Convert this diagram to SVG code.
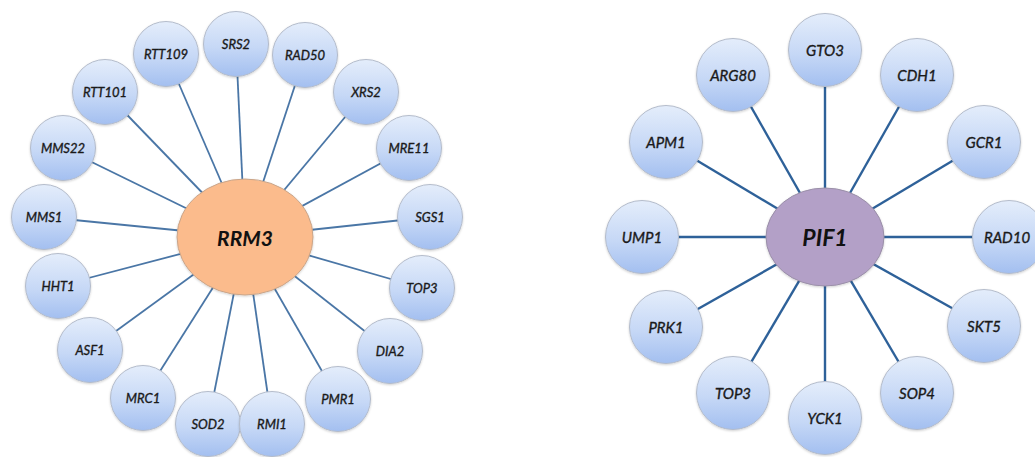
<svg xmlns="http://www.w3.org/2000/svg" width="1035" height="457" viewBox="0 0 1035 457">
  <defs>
    <linearGradient id="leaf" x1="0" y1="0" x2="0" y2="1">
      <stop offset="0" stop-color="#e4edfb"/>
      <stop offset="0.55" stop-color="#c6d8f6"/>
      <stop offset="1" stop-color="#a3bff0"/>
    </linearGradient>
    <filter id="soft" x="-20%" y="-20%" width="140%" height="140%">
      <feDropShadow dx="0" dy="1" stdDeviation="1" flood-color="#000" flood-opacity="0.18"/>
    </filter>
  </defs>
  <style>
    .leaf { fill: url(#leaf); stroke: #b4bccb; stroke-width: 1; filter: url(#soft); }
    .lbl { font-family: Lato, "Open Sans", "Liberation Sans", sans-serif; font-style: italic; fill: #1a1a1a; stroke: #1a1a1a; stroke-width: 0.35; text-anchor: middle; dominant-baseline: central; }
    .s { font-size: 13px; }
    .m { font-size: 15px; }
    .hub { font-family: Lato, "Open Sans", "Liberation Sans", sans-serif; font-style: italic; font-weight: bold; fill: #111; text-anchor: middle; dominant-baseline: central; }
    .e1 line { stroke: #4a76a6; stroke-width: 1.8; }
    .e2 line { stroke: #2e6199; stroke-width: 2.4; }
  </style>

  <!-- connectors -->
  <g id="connectors">
    <g class="e1">
      <line x1="245" y1="237" x2="236" y2="44"/>
      <line x1="245" y1="237" x2="166" y2="54"/>
      <line x1="245" y1="237" x2="305" y2="55"/>
      <line x1="245" y1="237" x2="105" y2="92"/>
      <line x1="245" y1="237" x2="366" y2="92"/>
      <line x1="245" y1="237" x2="63" y2="148"/>
      <line x1="245" y1="237" x2="409" y2="148"/>
      <line x1="245" y1="237" x2="44" y2="217"/>
      <line x1="245" y1="237" x2="430" y2="217"/>
      <line x1="245" y1="237" x2="58" y2="286"/>
      <line x1="245" y1="237" x2="422" y2="288"/>
      <line x1="245" y1="237" x2="90" y2="350"/>
      <line x1="245" y1="237" x2="390" y2="351"/>
      <line x1="245" y1="237" x2="143" y2="398"/>
      <line x1="245" y1="237" x2="338" y2="399"/>
      <line x1="245" y1="237" x2="208" y2="424"/>
      <line x1="245" y1="237" x2="272" y2="424"/>
    </g>
    <g class="e2">
      <line x1="825" y1="237" x2="825" y2="50"/>
      <line x1="825" y1="237" x2="733" y2="75"/>
      <line x1="825" y1="237" x2="917" y2="75"/>
      <line x1="825" y1="237" x2="666" y2="142"/>
      <line x1="825" y1="237" x2="984" y2="142"/>
      <line x1="825" y1="237" x2="642" y2="237"/>
      <line x1="825" y1="237" x2="1009" y2="237"/>
      <line x1="825" y1="237" x2="666" y2="327"/>
      <line x1="825" y1="237" x2="984" y2="326"/>
      <line x1="825" y1="237" x2="733" y2="393"/>
      <line x1="825" y1="237" x2="917" y2="393"/>
      <line x1="825" y1="237" x2="825" y2="418"/>
    </g>
  </g>

  <!-- RRM3 network -->
  <g id="rrm3">
    <ellipse cx="245" cy="237" rx="68" ry="58" fill="#fbbb8c" stroke="#c9a58a" stroke-width="1" filter="url(#soft)"/>
    <text class="hub" x="245" y="237" font-size="21">RRM3</text>
  </g>
  <g id="srs2"><circle class="leaf" cx="236" cy="44" r="32.5"/><text class="lbl s" x="236" y="44">SRS2</text></g>
  <g id="rtt109"><circle class="leaf" cx="166" cy="54" r="32.5"/><text class="lbl s" x="166" y="54">RTT109</text></g>
  <g id="rad50"><circle class="leaf" cx="305" cy="55" r="32.5"/><text class="lbl s" x="305" y="55">RAD50</text></g>
  <g id="rtt101"><circle class="leaf" cx="105" cy="92" r="32.5"/><text class="lbl s" x="105" y="92">RTT101</text></g>
  <g id="xrs2"><circle class="leaf" cx="366" cy="92" r="32.5"/><text class="lbl s" x="366" y="92">XRS2</text></g>
  <g id="mms22"><circle class="leaf" cx="63" cy="148" r="32.5"/><text class="lbl s" x="63" y="148">MMS22</text></g>
  <g id="mre11"><circle class="leaf" cx="409" cy="148" r="32.5"/><text class="lbl s" x="409" y="148">MRE11</text></g>
  <g id="mms1"><circle class="leaf" cx="44" cy="217" r="32.5"/><text class="lbl s" x="44" y="217">MMS1</text></g>
  <g id="sgs1"><circle class="leaf" cx="430" cy="217" r="32.5"/><text class="lbl s" x="430" y="217">SGS1</text></g>
  <g id="hht1"><circle class="leaf" cx="58" cy="286" r="32.5"/><text class="lbl s" x="58" y="286">HHT1</text></g>
  <g id="top3-a"><circle class="leaf" cx="422" cy="288" r="32.5"/><text class="lbl s" x="422" y="288">TOP3</text></g>
  <g id="asf1"><circle class="leaf" cx="90" cy="350" r="32.5"/><text class="lbl s" x="90" y="350">ASF1</text></g>
  <g id="dia2"><circle class="leaf" cx="390" cy="351" r="32.5"/><text class="lbl s" x="390" y="351">DIA2</text></g>
  <g id="mrc1"><circle class="leaf" cx="143" cy="398" r="32.5"/><text class="lbl s" x="143" y="398">MRC1</text></g>
  <g id="pmr1"><circle class="leaf" cx="338" cy="399" r="32.5"/><text class="lbl s" x="338" y="399">PMR1</text></g>
  <g id="sod2"><circle class="leaf" cx="208" cy="424" r="32.5"/><text class="lbl s" x="208" y="424">SOD2</text></g>
  <g id="rmi1"><circle class="leaf" cx="272" cy="424" r="32.5"/><text class="lbl s" x="272" y="424">RMI1</text></g>

  <!-- PIF1 network -->
  <g id="pif1">
    <ellipse cx="825" cy="237" rx="59" ry="49" fill="#b3a0c7" stroke="#9a8fa8" stroke-width="1" filter="url(#soft)"/>
    <text class="hub" x="825" y="237" font-size="23">PIF1</text>
  </g>
  <g id="gto3"><circle class="leaf" cx="825" cy="50" r="36.5"/><text class="lbl m" x="825" y="50">GTO3</text></g>
  <g id="arg80"><circle class="leaf" cx="733" cy="75" r="36.5"/><text class="lbl m" x="733" y="75">ARG80</text></g>
  <g id="cdh1"><circle class="leaf" cx="917" cy="75" r="36.5"/><text class="lbl m" x="917" y="75">CDH1</text></g>
  <g id="apm1"><circle class="leaf" cx="666" cy="142" r="36.5"/><text class="lbl m" x="666" y="142">APM1</text></g>
  <g id="gcr1"><circle class="leaf" cx="984" cy="142" r="36.5"/><text class="lbl m" x="984" y="142">GCR1</text></g>
  <g id="ump1"><circle class="leaf" cx="642" cy="237" r="36.5"/><text class="lbl m" x="642" y="237">UMP1</text></g>
  <g id="rad10"><circle class="leaf" cx="1009" cy="237" r="36.5"/><text class="lbl m" x="1007" y="237">RAD10</text></g>
  <g id="prk1"><circle class="leaf" cx="666" cy="327" r="36.5"/><text class="lbl m" x="666" y="327">PRK1</text></g>
  <g id="skt5"><circle class="leaf" cx="984" cy="326" r="36.5"/><text class="lbl m" x="984" y="326">SKT5</text></g>
  <g id="top3-b"><circle class="leaf" cx="733" cy="393" r="36.5"/><text class="lbl m" x="733" y="393">TOP3</text></g>
  <g id="sop4"><circle class="leaf" cx="917" cy="393" r="36.5"/><text class="lbl m" x="917" y="393">SOP4</text></g>
  <g id="yck1"><circle class="leaf" cx="825" cy="418" r="36.5"/><text class="lbl m" x="825" y="418">YCK1</text></g>
</svg>
